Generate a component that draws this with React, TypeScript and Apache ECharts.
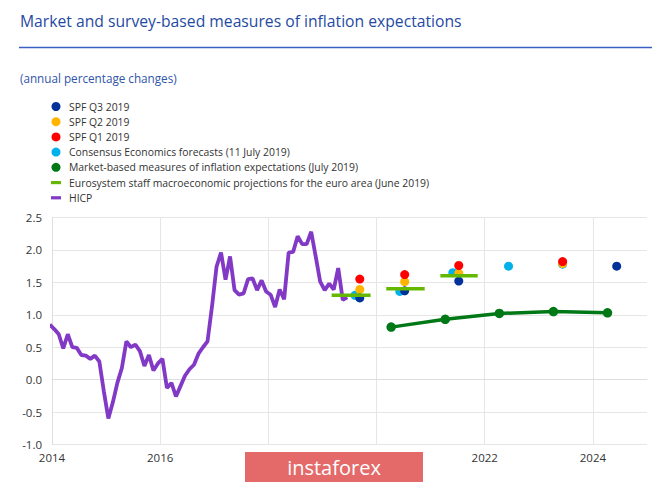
import React, { useEffect, useRef } from 'react';
import * as echarts from 'echarts';

const titleText = 'Market and survey-based measures of inflation expectations';
const subtitleText = '(annual percentage changes)';
const watermarkText = 'instaforex';

// HICP, monthly (Dec 2013 .. Jun 2019)
const hicpDec2013 = [0.85];
const hicp2014 = [0.78, 0.7, 0.48, 0.7, 0.5, 0.49, 0.38, 0.37, 0.32, 0.37, 0.28, -0.18];
const hicp2015 = [-0.6, -0.35, -0.05, 0.18, 0.59, 0.5, 0.54, 0.44, 0.21, 0.38, 0.14, 0.25];
const hicp2016 = [0.32, -0.13, -0.05, -0.26, -0.1, 0.06, 0.16, 0.23, 0.4, 0.5, 0.59, 1.13];
const hicp2017 = [1.74, 1.96, 1.54, 1.9, 1.38, 1.31, 1.33, 1.55, 1.56, 1.38, 1.53, 1.36];
const hicp2018 = [1.31, 1.12, 1.39, 1.24, 1.96, 1.97, 2.21, 2.09, 2.09, 2.28, 1.9, 1.51];
const hicp2019 = [1.38, 1.48, 1.39, 1.72, 1.23, 1.27];

// Survey of Professional Forecasters (x in decimal years)
const spfQ3Dates = [2019.69, 2020.52, 2021.52, 2024.44];
const spfQ3Values = [1.26, 1.37, 1.52, 1.75];
const spfQ2Dates = [2019.69, 2020.52, 2021.52, 2023.44];
const spfQ2Values = [1.39, 1.51, 1.64, 1.79];
const spfQ1Dates = [2019.69, 2020.52, 2021.52, 2023.44];
const spfQ1Values = [1.55, 1.62, 1.76, 1.82];

// Consensus Economics
const consensusDates = [2019.6, 2020.43, 2021.41, 2022.44, 2023.44];
const consensusValues = [1.3, 1.36, 1.65, 1.75, 1.78];

// Market-based measures
const marketDates = [2020.27, 2021.27, 2022.27, 2023.27, 2024.27];
const marketValues = [0.81, 0.93, 1.02, 1.05, 1.03];

// Eurosystem staff projections
const eurosystemStart = [2019.17, 2020.18, 2021.18];
const eurosystemEnd = [2019.89, 2020.89, 2021.87];
const eurosystemValues = [1.3, 1.4, 1.6];

// x tick labels visible in the picture (2018 and 2020 are covered by the watermark)
const xTickLabels = [2014, 2016, 2022, 2024];

const NAMES = {
  q3: 'SPF Q3 2019',
  q2: 'SPF Q2 2019',
  q1: 'SPF Q1 2019',
  cons: 'Consensus Economics forecasts (11 July 2019)',
  market: 'Market-based measures of inflation expectations (July 2019)',
  euro: 'Eurosystem staff macroeconomic projections for the euro area (June 2019)',
  hicp: 'HICP',
};

const FONT = '"Open Sans", "Noto Sans", sans-serif';

function hicpData() {
  const years: [number, number[]][] = [
    [2014, hicp2014], [2015, hicp2015], [2016, hicp2016], [2017, hicp2017], [2018, hicp2018], [2019, hicp2019],
  ];
  const out: [number, number][] = [[2013 + 11.5 / 12, hicpDec2013[0]]];
  years.forEach(([y, vals]) => vals.forEach((v, i) => out.push([y + (i + 0.5) / 12, v])));
  return out;
}

const pairs = (xs: number[], ys: number[]) => xs.map((x, i) => [x, ys[i]]);

function euroData() {
  const out: any[] = [];
  eurosystemValues.forEach((v, i) => {
    out.push([eurosystemStart[i], v]);
    out.push([eurosystemEnd[i], v]);
    out.push([eurosystemEnd[i], '-']);
  });
  return out;
}

export default function App() {
  const ref = useRef<HTMLDivElement>(null);
  useEffect(() => {
    document.body.style.margin = '0';
    const chart = echarts.init(ref.current!, undefined, { renderer: 'svg' });
    const dot = (name: string, xs: number[], ys: number[], color: string) => ({
      name, type: 'scatter', data: pairs(xs, ys), symbol: 'circle', symbolSize: 9,
      itemStyle: { color, opacity: 1 }, emphasis: { disabled: true },
    });
    const barIcon = 'path://M0,0M0,3h10v3.2H0zM10,9';
    chart.setOption({
      animation: false,
      backgroundColor: '#ffffff',
      textStyle: { fontFamily: FONT },
      grid: { left: 52, right: 18, top: 217.5, bottom: 37.5, containLabel: false },
      xAxis: {
        type: 'value', min: 2014, max: 2025, interval: 2,
        axisLine: { show: true, lineStyle: { color: '#dedede', width: 1 } },
        axisTick: { show: false },
        axisLabel: {
          showMaxLabel: false, margin: 7, fontSize: 11.5, color: '#333', fontFamily: FONT,
          formatter: (v: number) => (xTickLabels.includes(v) ? String(v) : ''),
        },
        splitLine: { show: true, showMaxLine: false, lineStyle: { color: '#e6e6e6', width: 1 } },
      },
      yAxis: {
        type: 'value', min: -1, max: 2.5, interval: 0.5,
        axisLine: { show: true, lineStyle: { color: '#dedede', width: 1 } },
        axisTick: { show: false },
        axisLabel: { margin: 10, fontSize: 11.5, color: '#333', fontFamily: FONT, formatter: (v: number) => v.toFixed(1) },
        splitLine: { show: true, lineStyle: { color: '#e6e6e6', width: 1 } },
      },
      legend: {
        orient: 'vertical', left: 51, top: 101.5, itemWidth: 10, itemHeight: 9, itemGap: 5.2, padding: 0,
        selectedMode: false,
        textStyle: { fontFamily: FONT, fontSize: 10.4, color: '#333', lineHeight: 9, padding: [0, 0, 0, 3] },
        data: [
          { name: NAMES.q3, icon: 'circle' },
          { name: NAMES.q2, icon: 'circle' },
          { name: NAMES.q1, icon: 'circle' },
          { name: NAMES.cons, icon: 'circle' },
          { name: NAMES.market, icon: 'circle' },
          { name: NAMES.euro, icon: barIcon },
          { name: NAMES.hicp, icon: barIcon },
        ],
      },
      graphic: [
        { type: 'text', x: 20, y: 21, style: { text: titleText, font: `15.7px ${FONT}`, fill: '#1f4aa3', textVerticalAlign: 'middle', verticalAlign: 'middle' } },
        { type: 'line', shape: { x1: 19, y1: 47.5, x2: 652, y2: 47.5 }, style: { stroke: '#3a5fc4', lineWidth: 1.5 } },
        { type: 'text', x: 20, y: 78, style: { text: subtitleText, font: `11.7px ${FONT}`, fill: '#2f55a8', textVerticalAlign: 'middle', verticalAlign: 'middle' } },
        { type: 'rect', z: 100, shape: { x: 245, y: 452, width: 178, height: 30 }, style: { fill: '#e46a6a' } },
        { type: 'text', z: 101, x: 334, y: 467, style: { text: watermarkText, font: `20px ${FONT}`, fill: '#ffffff', textAlign: 'center', align: 'center', textVerticalAlign: 'middle', verticalAlign: 'middle' } },
      ],
      series: [
        {
          name: NAMES.hicp, type: 'line', data: hicpData(), symbol: 'none', clip: true,
          lineStyle: { color: '#8139c6', width: 3.8 }, itemStyle: { color: '#8139c6' }, emphasis: { disabled: true },
        },
        {
          name: NAMES.euro, type: 'line', data: euroData(), symbol: 'none', connectNulls: false,
          lineStyle: { color: '#65b800', width: 3.5 }, itemStyle: { color: '#65b800' }, emphasis: { disabled: true },
        },
        {
          name: NAMES.market, type: 'line', data: pairs(marketDates, marketValues), symbol: 'circle', symbolSize: 9.5,
          lineStyle: { color: '#007816', width: 3.5 }, itemStyle: { color: '#007816' }, emphasis: { disabled: true },
        },
        dot(NAMES.cons, consensusDates, consensusValues, '#00b1ea'),
        dot(NAMES.q2, spfQ2Dates, spfQ2Values, '#ffb400'),
        dot(NAMES.q1, spfQ1Dates, spfQ1Values, '#ff0000'),
        dot(NAMES.q3, spfQ3Dates, spfQ3Values, '#003299'),
      ],
    });
    return () => chart.dispose();
  }, []);
  return <div ref={ref} style={{ width: 665, height: 482 }} />;
}
